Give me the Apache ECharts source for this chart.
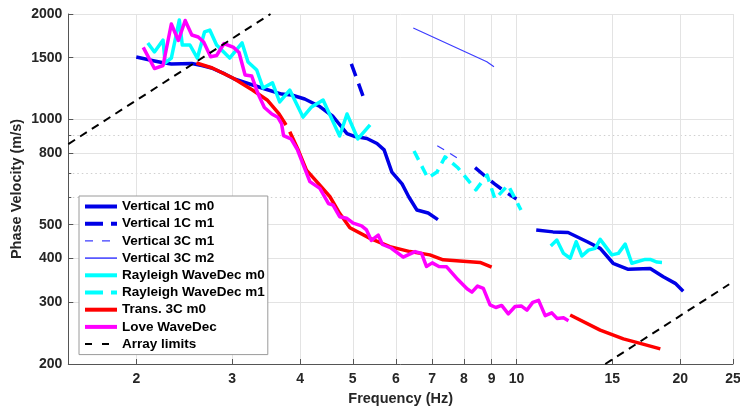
<!DOCTYPE html>
<html><head><meta charset="utf-8">
<script src="https://cdn.jsdelivr.net/npm/echarts@6/dist/echarts.min.js"></script>
<style>html,body{margin:0;padding:0;background:#fff}#c{width:740px;height:412px}</style>
</head><body><div id="c"></div>
<script>
// ---- axis definitions ----
const xRange = [1.5, 25];
const yRange = [200, 2000];
const xTickValues = [2, 3, 4, 5, 6, 7, 8, 9, 10, 15, 20, 25];
const yTickValues = [200, 300, 400, 500, 800, 1000, 1500, 2000];
const yMinorValues = [600, 700, 900];

// ---- data: [frequency Hz, phase velocity m/s] ----
const vert1C_m0_a = [[2.00,1507],[2.16,1468],[2.23,1453],[2.32,1439],[2.53,1444],[2.64,1425],[2.75,1402],[2.91,1348],[3.03,1304],[3.21,1266],[3.45,1221],[3.70,1181],[3.86,1174],[4.08,1143],[4.35,1088],[4.60,1019],[4.88,911],[5.05,893],[5.31,882],[5.54,853],[5.71,818],[5.90,707],[6.16,654],[6.34,600],[6.56,551],[6.88,540],[7.17,517]];
const vert1C_m0_b = [[10.87,483],[11.67,477],[12.44,475],[13.49,447],[14.25,428],[15.05,388],[16.05,373],[17.61,375],[18.61,355],[19.58,340],[20.25,323]];
const vert1C_m1_a = [[4.97,1440],[5.11,1280],[5.26,1130]];
const vert1C_m1_b = [[8.39,728],[8.75,689],[9.10,655],[9.53,621],[10.0,592]];
const vert3C_m1 = [[7.15,841],[7.50,804],[7.87,767]];
const vert3C_m2 = [[6.46,1824],[8.82,1461],[9.09,1414]];
const rayleigh_m0_a = [[2.10,1653],[2.16,1558],[2.24,1685],[2.26,1449],[2.32,1497],[2.40,1923],[2.43,1631],[2.51,1631],[2.59,1497],[2.67,1777],[2.73,1800],[2.81,1631],[2.97,1497],[3.13,1653],[3.21,1459],[3.33,1384],[3.42,1229],[3.56,1271],[3.67,1121],[3.83,1213],[4.05,1015],[4.20,1085],[4.41,1136],[4.73,896],[4.88,1036],[5.11,879],[5.38,964]];
const rayleigh_m0_b = [[11.56,435],[11.86,452],[12.20,414],[12.55,401],[12.87,447],[13.19,407],[13.56,423],[13.95,428],[14.25,454],[14.97,410],[15.39,414],[15.84,440],[16.29,388],[17.24,398],[17.61,398],[18.12,391],[18.51,390]];
const rayleigh_m1 = [[6.48,812],[6.87,680],[7.14,707],[7.39,781],[7.81,726],[8.42,629],[8.83,693],[9.13,592],[9.65,649],[10.19,551]];
const trans3C_m0_a = [[2.58,1449],[2.76,1402],[3.01,1313],[3.27,1213],[3.48,1136],[3.66,1036],[3.77,964]];
const trans3C_m0_b = [[3.83,922],[3.97,817],[4.11,716],[4.35,649],[4.54,601],[4.73,539],[4.94,490],[5.38,457],[5.85,433],[6.37,419],[6.93,410],[7.33,397],[8.21,392],[8.57,390],[9.00,378]];
const trans3C_m0_c = [[12.55,276],[14.25,250],[15.72,236],[16.88,229],[18.38,221]];
const loveWaveDec = [[2.06,1605],[2.16,1397],[2.24,1425],[2.32,1873],[2.39,1680],[2.46,1916],[2.53,1742],[2.60,1719],[2.66,1664],[2.74,1510],[2.81,1522],[2.90,1647],[3.02,1605],[3.09,1552],[3.17,1339],[3.26,1330],[3.35,1181],[3.44,1081],[3.55,1036],[3.64,1014],[3.70,970],[3.73,899],[3.85,879],[3.95,823],[4.17,664],[4.35,635],[4.51,575],[4.60,569],[4.73,527],[4.87,522],[5.01,505],[5.19,496],[5.30,483],[5.41,451],[5.57,467],[5.67,439],[5.88,429],[6.19,404],[6.51,419],[6.69,414],[6.83,380],[7.00,389],[7.20,380],[7.44,379],[7.81,348],[8.11,328],[8.28,321],[8.48,334],[8.69,329],[8.94,295],[9.16,290],[9.39,294],[9.66,278],[9.94,292],[10.20,293],[10.45,285],[10.71,300],[10.98,304],[11.29,275],[11.61,280],[11.87,270],[12.20,271],[12.46,266]];
const arrayLimits_a = [[1.5,850],[3.53,2000]];
const arrayLimits_b = [[14.56,200],[24.6,338]];

// ---- rendering ----
const L = Math.log10;
const FONT = "'Liberation Sans', Arial, Helvetica, sans-serif";
const fmt = v => String(Math.round(Math.pow(10, v)));
const toLog = pts => pts.map(p => [L(p[0]), L(p[1])]);

const BLUE = '#0000e6', BLUE_THIN = '#3c3cff', CYAN = '#00ffff', RED = '#ff0000', MAG = '#ff00ff', BLACK = '#000000';

function mk(name, pts, color, width, type) {
  return {
    type: 'line', name: name, data: toLog(pts), symbol: 'none', showSymbol: false, silent: true,
    animation: false, clip: true,
    lineStyle: { color: color, width: width, type: type || 'solid', join: 'round', cap: 'butt' },
    itemStyle: { color: color }
  };
}

const series = [
  mk('Vertical 1C m0', vert1C_m0_a, BLUE, 3.5),
  mk('Vertical 1C m0', vert1C_m0_b, BLUE, 3.5),
  mk('Vertical 1C m1', vert1C_m1_a, BLUE, 3.5, [13, 8]),
  mk('Vertical 1C m1', vert1C_m1_b, BLUE, 3.5, [13, 8]),
  mk('Vertical 3C m1', vert3C_m1, BLUE_THIN, 1.2, [8, 7]),
  mk('Vertical 3C m2', vert3C_m2, BLUE_THIN, 1.2),
  mk('Rayleigh WaveDec m0', rayleigh_m0_a, CYAN, 3.5),
  mk('Rayleigh WaveDec m0', rayleigh_m0_b, CYAN, 3.5),
  mk('Rayleigh WaveDec m1', rayleigh_m1, CYAN, 3.5, [10, 7]),
  mk('Trans. 3C m0', trans3C_m0_a, RED, 3.5),
  mk('Trans. 3C m0', trans3C_m0_b, RED, 3.5),
  mk('Trans. 3C m0', trans3C_m0_c, RED, 3.5),
  mk('Love WaveDec', loveWaveDec, MAG, 3.5),
  mk('Array limits', arrayLimits_a, BLACK, 2, [8, 6]),
  mk('Array limits', arrayLimits_b, BLACK, 2, [8, 6])
];

const labelStyle = { color: '#262626', fontSize: 14, fontWeight: 'bold', fontFamily: FONT };
const nameStyle = { color: '#262626', fontSize: 14.5, fontWeight: 'bold', fontFamily: FONT };
const axisColor = '#555555';

const legendItem = (name, width, type) => ({ name: name, itemStyle: { opacity: 0, borderWidth: 0 }, lineStyle: { width: width, type: type, opacity: 1 } });

const chart = echarts.init(document.getElementById('c'), null, { renderer: 'canvas' });
chart.setOption({
  animation: false,
  backgroundColor: '#ffffff',
  grid: { left: 68.3, right: 7, top: 14, bottom: 48, containLabel: false, outerBoundsMode: 'none' },
  xAxis: {
    type: 'value', min: L(xRange[0]), max: L(xRange[1]),
    axisLine: { show: true, onZero: false, lineStyle: { color: axisColor, width: 1 } },
    axisTick: { show: true, inside: true, length: 5, customValues: xTickValues.map(L), lineStyle: { color: axisColor } },
    axisLabel: Object.assign({ customValues: xTickValues.map(L), formatter: fmt, margin: 8 }, labelStyle),
    splitLine: { show: true, lineStyle: { color: '#e3e3e3', width: 1 } },
    name: 'Frequency (Hz)', nameLocation: 'middle', nameGap: 27, nameMoveOverlap: false, nameTextStyle: nameStyle
  },
  yAxis: [{
    type: 'value', min: L(yRange[0]), max: L(yRange[1]),
    axisLine: { show: true, onZero: false, lineStyle: { color: axisColor, width: 1 } },
    axisTick: { show: true, inside: true, length: 5, customValues: yTickValues.map(L), lineStyle: { color: axisColor } },
    axisLabel: Object.assign({ customValues: yTickValues.map(L), formatter: fmt, margin: 6 }, labelStyle),
    splitLine: { show: true, lineStyle: { color: '#e3e3e3', width: 1 } },
    name: 'Phase Velocity (m/s)', nameLocation: 'middle', nameGap: 44, nameRotate: 90, nameMoveOverlap: false, nameTextStyle: nameStyle
  }, {
    type: 'value', min: L(yRange[0]), max: L(yRange[1]), position: 'left',
    axisLine: { show: false },
    axisTick: { show: true, inside: true, length: 3, customValues: yMinorValues.map(L), lineStyle: { color: axisColor } },
    axisLabel: { show: false },
    splitLine: { show: true, lineStyle: { color: '#cfcfcf', width: 1, type: [1.5, 3] } }
  }],
  legend: {
    orient: 'vertical', left: 79, top: 196,
    padding: [3, 3, 3, 4], itemGap: 2.2, itemWidth: 32, itemHeight: 14,
    backgroundColor: '#ffffff', borderColor: '#9a9a9a', borderWidth: 1,
    selectedMode: false,
    itemStyle: { opacity: 0, borderWidth: 0 },
    textStyle: { color: '#000', fontSize: 13.5, fontWeight: 'bold', fontFamily: FONT, lineHeight: 15 },
    data: [
      legendItem('Vertical 1C m0', 4, 'solid'),
      legendItem('Vertical 1C m1', 4, [18, 8]),
      legendItem('Vertical 3C m1', 1.2, [8, 9]),
      legendItem('Vertical 3C m2', 1.5, 'solid'),
      legendItem('Rayleigh WaveDec m0', 4, 'solid'),
      legendItem('Rayleigh WaveDec m1', 4, [18, 8]),
      legendItem('Trans. 3C m0', 4, 'solid'),
      legendItem('Love WaveDec', 4, 'solid'),
      legendItem('Array limits', 2, [7, 10])
    ]
  },
  series: series
});
</script>
</body></html>
